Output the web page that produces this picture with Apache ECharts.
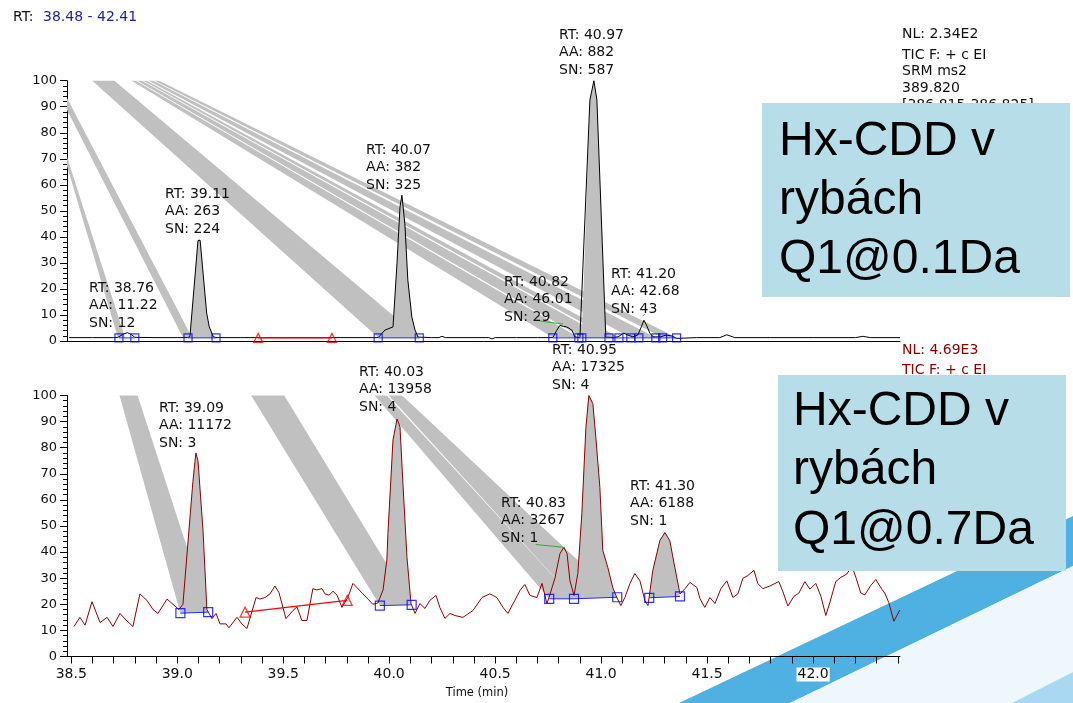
<!DOCTYPE html>
<html><head><meta charset="utf-8">
<script src="https://cdn.jsdelivr.net/npm/echarts@6/dist/echarts.min.js"></script>
<style>html,body{margin:0;padding:0;background:#fff;}#c{width:1073px;height:703px;}</style>
</head><body><div id="c"></div><script>
// ---------- DATA ----------
const xLabelValues = [38.5,39.0,39.5,40.0,40.5,41.0,41.5,42.0];
const xTickValues = [38.5,38.6,38.7,38.8,38.9,39.0,39.1,39.2,39.3,39.4,39.5,39.6,39.7,39.8,39.9,40.0,40.1,40.2,40.3,40.4,40.5,40.6,40.7,40.8,40.9,41.0,41.1,41.2,41.3,41.4,41.5,41.6,41.7,41.8,41.9,42.0,42.1,42.2,42.3,42.4];

// top chromatogram (Q1 @ 0.1 Da), relative abundance
const topTime = [38.49,38.60,38.70,38.72,38.745,38.765,38.785,38.80,38.90,39.00,39.05,39.06,39.098,39.103,39.108,39.139,39.151,39.17,39.183,39.30,39.50,39.70,39.90,39.948,39.98,40.018,40.037,40.051,40.060,40.074,40.088,40.107,40.122,40.136,40.20,40.235,40.249,40.265,40.40,40.47,40.485,40.50,40.60,40.70,40.772,40.79,40.805,40.822,40.838,40.862,40.876,40.90,40.909,40.947,40.966,40.980,41.022,41.06,41.08,41.107,41.126,41.15,41.173,41.19,41.202,41.214,41.23,41.245,41.278,41.309,41.333,41.356,41.45,41.56,41.593,41.63,41.80,42.00,42.20,42.235,42.27,42.41];
const topVal  = [1.3,1.3,1.3,1.4,2.6,3.2,2.4,1.4,1.3,1.3,1.3,1.7,38.6,39.3,38.7,10.7,5.5,1.7,1.3,1.3,1.3,1.3,1.3,1.3,4.2,5.4,30,51.5,56,45,23.4,9.2,4.2,1.5,1.3,1.3,1.8,1.3,1.3,1.3,0.8,1.3,1.3,1.3,1.3,4,6,5.6,5.4,4.2,1.5,1.3,1.4,92.6,100,92.6,1.5,1.3,1.6,3,2.3,1.6,2.3,5.5,8,6.1,3,1.6,1.6,2.3,1.9,1.0,1.3,1.3,2.4,1.3,1.3,1.3,1.3,1.8,1.3,1.3];

// bottom chromatogram (Q1 @ 0.7 Da)
const btmTime = [38.513,38.541,38.565,38.598,38.636,38.669,38.697,38.730,38.758,38.791,38.824,38.857,38.886,38.909,38.952,38.980,39.008,39.027,39.074,39.088,39.098,39.122,39.140,39.164,39.183,39.202,39.230,39.244,39.282,39.305,39.329,39.372,39.390,39.414,39.438,39.461,39.480,39.513,39.546,39.565,39.588,39.612,39.640,39.659,39.683,39.697,39.716,39.735,39.754,39.777,39.805,39.829,39.848,39.876,39.900,39.923,39.947,39.971,39.989,39.994,40.018,40.037,40.051,40.065,40.084,40.103,40.122,40.145,40.169,40.192,40.221,40.239,40.263,40.287,40.310,40.348,40.395,40.438,40.475,40.508,40.537,40.560,40.593,40.617,40.640,40.664,40.697,40.721,40.744,40.754,40.782,40.806,40.824,40.839,40.853,40.872,40.890,40.909,40.928,40.942,40.961,40.975,40.994,41.008,41.032,41.055,41.074,41.093,41.112,41.136,41.159,41.183,41.206,41.221,41.244,41.277,41.301,41.324,41.348,41.372,41.396,41.419,41.452,41.466,41.489,41.513,41.537,41.565,41.593,41.622,41.645,41.669,41.692,41.721,41.739,41.763,41.796,41.838,41.857,41.881,41.909,41.933,41.961,41.985,42.013,42.037,42.060,42.079,42.107,42.131,42.159,42.183,42.202,42.225,42.244,42.272,42.296,42.324,42.338,42.357,42.381,42.409];
const btmVal  = [11.5,15,12,21,13,15,11.5,16.5,14,11.5,24,21.5,18,16.5,22,20,18,20,67,78,75,48,18,14.5,16.5,12.5,12.5,11,15,12.5,10.7,22.6,22,22.6,24,27,24.5,14.5,17.6,19,13.8,13.8,26,25.5,26,24,23.5,25,23.5,18.8,22.6,28,26.4,24,22,20,20.5,25.5,37,47,83,91,88,66,38,20.3,16.5,20.3,18.4,21.5,23.4,18.8,14.6,16.5,15.7,15,17.6,22.6,24,22.6,18.8,16.5,21.5,25.3,27.6,23.4,22.6,28,20.3,22.6,30,39.5,41.8,39.5,29,23.4,31.8,54.8,87.7,100,96.9,84,64.8,40.6,34,26.4,22.6,19.5,22.6,28,31.8,29,21.5,19.5,33,44.4,47.5,44.4,34,24,26,28.4,26.4,22.2,18.8,22.6,20.3,26,29,22.6,24,30,31,33,28,26,27,28.7,25,19.3,23,24.3,28.7,25.8,28,23,15.7,20.7,28.7,30.3,31.6,34.5,30.3,24.3,23.6,27.2,29.5,25.8,24.3,20.7,13.5,17.8];

// peak detection markers
const topMarkTime = [38.725,38.80,39.051,39.183,39.948,40.142,40.772,40.895,40.909,41.037,41.084,41.14,41.178,41.258,41.29,41.356];
const topMarkVal  = [1.2,1.2,1.2,1.2,1.2,1.2,1.2,1.2,1.2,1.2,1.2,1.2,1.2,1.2,1.2,1.2];
const topBaseSegs = [[0,1],[2,3],[4,5],[6,7,8,9,10,11,12,13,14,15]];
const topRejTime = [39.382,39.73];
const topRejVal  = [1.2,1.2];
const btmMarkTime = [39.015,39.146,39.956,40.106,40.755,40.872,41.076,41.227,41.372];
const btmMarkVal  = [16.6,17,19.5,19.8,22.1,22.1,22.7,22.5,23];
const btmBaseSegs = [[0,1],[2,3],[4,5,6],[7,8]];
const btmRejTime = [39.32,39.802];
const btmRejVal  = [17,21.5];
// integrated peaks (index pairs into marker arrays)
const topPeaks = [[2,3],[4,5],[8,9]];
const btmPeaks = [[0,1],[2,3],[4,5],[5,6],[7,8]];

// grey integration artefact bands [time, abundance]
const bandsTop = [
  [[38.48,70.7],[38.754,1.3],[38.72,1.3],[38.48,67.2]],
  [[38.48,93.4],[39.07,1.3],[39.027,1.3],[38.48,88.7]],
  [[38.588,100.8],[38.692,100.8],[40.142,1.3],[39.948,1.3]],
  [[38.768,100.8],[38.787,100.8],[40.895,1.3],[40.772,1.3]],
  [[38.794,100.8],[38.815,100.8],[41.022,1.3],[40.909,1.3]],
  [[38.822,100.8],[38.838,100.8],[41.084,1.3],[41.037,1.3]],
  [[38.846,100.8],[38.867,100.8],[41.258,1.3],[41.14,1.3]],
  [[38.874,100.8],[38.895,100.8],[41.356,1.3],[41.29,1.3]]
];
const bandsBtm = [
  [[38.725,100.8],[38.81,100.8],[39.146,17],[39.015,16.6]],
  [[39.343,100.8],[39.499,100.8],[40.106,19.8],[39.956,19.5]],
  [[39.923,100.8],[39.98,100.8],[40.872,22.1],[40.755,22.1]],
  [[39.989,100.8],[40.051,100.8],[41.076,22.7],[40.872,22.1]]
];
// green label leader lines
const greenTop = [[[40.711,7.7],[40.82,6.5]],[[41.197,9.6],[41.206,10.4]]];
const greenBtm = [[[40.692,42.9],[40.829,41.8]]];

// peak annotations
const annTopRT = ['38.76','39.11','40.07','40.82','40.97','41.20'];
const annTopAA = ['11.22','263','382','46.01','882','42.68'];
const annTopSN = ['12','224','325','29','587','43'];
const annBtmRT = ['39.09','40.03','40.83','40.95','41.30'];
const annBtmAA = ['11172','13958','3267','17325','6188'];
const annBtmSN = ['3','4','1','4','1'];

// ---------- LAYOUT ----------
const annTopPos = [[89,288],[165,194],[366,150],[504,282],[559,35],[611,274]];
const annBtmPos = [[159,408],[359,372],[501,503],[552,350],[630,486]];
const FONT = '"DejaVu Sans", Verdana, sans-serif';

const chart = echarts.init(document.getElementById('c'), null, {renderer:'canvas'});

function polySeries(polys, gi, color, z) {
  return {type:'custom', xAxisIndex:gi, yAxisIndex:gi, clip:true, z:z, silent:true, animation:false,
    data: polys.map((p,i)=>[p[0][0], p[0][1], i]),
    encode:{x:0,y:1},
    renderItem:(params, api)=>{
      const poly = polys[api.value(2)];
      return {type:'polygon', shape:{points: poly.map(pt=>api.coord(pt))}, style:{fill:color}};
    }};
}
function peakPolys(times, vals, mt, mv, peaks) {
  return peaks.map(([a,b])=>{
    const s=mt[a], e=mt[b];
    const pts=[[s,mv[a]]];
    times.forEach((t,i)=>{ if(t>s && t<e) pts.push([t,vals[i]]); });
    pts.push([e,mv[b]]);
    return pts;
  });
}
const zip = (a,b)=>a.map((v,i)=>[v,b[i]]);

const series = [];
series.push(polySeries(bandsTop,0,'#c0c0c0',1));
series.push(polySeries(bandsBtm,1,'#c0c0c0',1));
series.push(polySeries(peakPolys(topTime,topVal,topMarkTime,topMarkVal,topPeaks),0,'#c0c0c0',1));
series.push(polySeries(peakPolys(btmTime,btmVal,btmMarkTime,btmMarkVal,btmPeaks),1,'#c0c0c0',1));
series.push({type:'line', xAxisIndex:0, yAxisIndex:0, data:zip(topTime,topVal), symbol:'none', lineStyle:{color:'#000',width:1}, z:3, animation:false, silent:true});
series.push({type:'line', xAxisIndex:1, yAxisIndex:1, data:zip(btmTime,btmVal), symbol:'none', lineStyle:{color:'#8b0000',width:1}, z:3, animation:false, silent:true});
topBaseSegs.forEach(seg=>series.push({type:'line', xAxisIndex:0, yAxisIndex:0, data:seg.map(i=>[topMarkTime[i],topMarkVal[i]]), symbol:'none', lineStyle:{color:'#2a2aff',width:1}, z:4, animation:false, silent:true}));
btmBaseSegs.forEach(seg=>series.push({type:'line', xAxisIndex:1, yAxisIndex:1, data:seg.map(i=>[btmMarkTime[i],btmMarkVal[i]]), symbol:'none', lineStyle:{color:'#2a2aff',width:1}, z:4, animation:false, silent:true}));
series.push({type:'line', xAxisIndex:0, yAxisIndex:0, data:zip(topRejTime,topRejVal), symbol:'none', lineStyle:{color:'#ff0000',width:1.3}, z:4, animation:false, silent:true});
series.push({type:'line', xAxisIndex:1, yAxisIndex:1, data:zip(btmRejTime,btmRejVal), symbol:'none', lineStyle:{color:'#ff0000',width:1.3}, z:4, animation:false, silent:true});
greenTop.forEach(g=>series.push({type:'line', xAxisIndex:0, yAxisIndex:0, data:g, symbol:'none', lineStyle:{color:'#33aa33',width:1}, z:4, animation:false, silent:true}));
greenBtm.forEach(g=>series.push({type:'line', xAxisIndex:1, yAxisIndex:1, data:g, symbol:'none', lineStyle:{color:'#33aa33',width:1}, z:4, animation:false, silent:true}));
const sq = {color:'rgba(0,0,0,0)', borderColor:'#0000ff', borderWidth:1.2};
const tri = {color:'rgba(0,0,0,0)', borderColor:'#ff0000', borderWidth:1.2};
series.push({type:'scatter', xAxisIndex:0, yAxisIndex:0, data:zip(topMarkTime,topMarkVal), symbol:'rect', symbolSize:8, itemStyle:sq, z:5, animation:false, silent:true});
series.push({type:'scatter', xAxisIndex:1, yAxisIndex:1, data:zip(btmMarkTime,btmMarkVal), symbol:'rect', symbolSize:9, itemStyle:sq, z:5, animation:false, silent:true});
series.push({type:'scatter', xAxisIndex:0, yAxisIndex:0, data:zip(topRejTime,topRejVal), symbol:'triangle', symbolSize:9, itemStyle:tri, z:5, animation:false, silent:true});
series.push({type:'scatter', xAxisIndex:1, yAxisIndex:1, data:zip(btmRejTime,btmRejVal), symbol:'triangle', symbolSize:10, itemStyle:tri, z:5, animation:false, silent:true});

const yAx = gi => ({type:'value', gridIndex:gi, min:0, max:100, interval:10,
  axisLine:{show:true, lineStyle:{color:'#000',width:1}},
  axisTick:{show:true, length:7, lineStyle:{color:'#000'}},
  minorTick:{show:true, splitNumber:5, length:4, lineStyle:{color:'#000'}},
  splitLine:{show:false},
  axisLabel:{color:'#111', fontSize:13, fontFamily:FONT, margin:10}});

const graphic = [];
// decorative slide stripe
graphic.push({type:'polygon', z:-10, silent:true, shape:{points:[[679,703],[790,703],[1073,566],[1073,516]]}, style:{fill:'#4fb1e2'}});
graphic.push({type:'polygon', z:-10, silent:true, shape:{points:[[790,703],[1012,703],[1073,672],[1073,566]]}, style:{fill:'#eef7fc'}});
graphic.push({type:'polygon', z:-10, silent:true, shape:{points:[[1012,703],[1073,703],[1073,672]]}, style:{fill:'#a9d9f2'}});
// header texts
graphic.push({type:'text', x:13, y:17, z:50, style:{text:'RT:', font:'14px '+FONT, fill:'#111', verticalAlign:'middle'}});
graphic.push({type:'text', x:43, y:17, z:50, style:{text:'38.48 - 42.41', font:'14px '+FONT, fill:'#1c1ca6', verticalAlign:'middle'}});
const rightTop = ['NL: 2.34E2','TIC F: + c EI','SRM ms2','389.820','[386.815-386.825]'];
const rightTopY = [34,55,71,88,105];
rightTop.forEach((t,i)=>graphic.push({type:'text', x:902, y:rightTopY[i], z:50, style:{text:t, font:'14px '+FONT, fill:'#111', verticalAlign:'middle'}}));
const rightBtm = ['NL: 4.69E3','TIC F: + c EI'];
const rightBtmY = [350,370];
rightBtm.forEach((t,i)=>graphic.push({type:'text', x:902, y:rightBtmY[i], z:50, style:{text:t, font:'14px '+FONT, fill:'#8b0000', verticalAlign:'middle'}}));
// peak annotations
function ann(rt,aa,sn,pos){
  graphic.push({type:'text', x:pos[0], y:pos[1]-8.75, z:50, silent:true,
    style:{text:'RT: '+rt+'\nAA: '+aa+'\nSN: '+sn, font:'14px '+FONT, fill:'#111', lineHeight:17.5, verticalAlign:'top'}});
}
annTopRT.forEach((r,i)=>ann(r,annTopAA[i],annTopSN[i],annTopPos[i]));
annBtmRT.forEach((r,i)=>ann(r,annBtmAA[i],annBtmSN[i],annBtmPos[i]));
// axis title
graphic.push({type:'text', x:477, y:693, z:50, style:{text:'Time (min)', font:'11.5px '+FONT, fill:'#111', align:'center', verticalAlign:'middle'}});
// blue caption boxes
const boxFont = '48px "Liberation Sans", Arial, sans-serif';
graphic.push({type:'rect', z:100, shape:{x:762,y:103,width:308,height:194}, style:{fill:'#b7dde8'}});
['Hx-CDD v','rybách','Q1@0.1Da'].forEach((t,i)=>graphic.push({type:'text', z:101, x:779, y:[142,201,260][i], style:{text:t, font:boxFont, fill:'#000', verticalAlign:'middle'}}));
graphic.push({type:'rect', z:100, shape:{x:778,y:375,width:288,height:196}, style:{fill:'#b7dde8'}});
['Hx-CDD v','rybách','Q1@0.7Da'].forEach((t,i)=>graphic.push({type:'text', z:101, x:793, y:[412,471,531][i], style:{text:t, font:boxFont, fill:'#000', verticalAlign:'middle'}}));

chart.setOption({
  animation:false,
  backgroundColor:'transparent',
  grid:[{left:67, right:173, top:80.7, height:260.3, containLabel:false},
        {left:67, right:173, top:395.5, height:261, containLabel:false}],
  xAxis:[
    {type:'value', gridIndex:0, min:38.48, max:42.41, axisLine:{show:true, onZero:false, lineStyle:{color:'#000'}}, axisTick:{show:false}, axisLabel:{show:false}, splitLine:{show:false}},
    {type:'value', gridIndex:1, min:38.48, max:42.41, axisLine:{show:true, onZero:false, lineStyle:{color:'#000'}},
      axisTick:{show:true, length:7, customValues:xTickValues, lineStyle:{color:'#000'}},
      axisLabel:{show:true, customValues:xLabelValues, formatter:v=>v.toFixed(1), color:'#111', fontSize:14, fontFamily:FONT, margin:11, backgroundColor:'#fff', padding:[0,1]},
      splitLine:{show:false}}
  ],
  yAxis:[yAx(0), yAx(1)],
  series: series,
  graphic: graphic
});
</script></body></html>
